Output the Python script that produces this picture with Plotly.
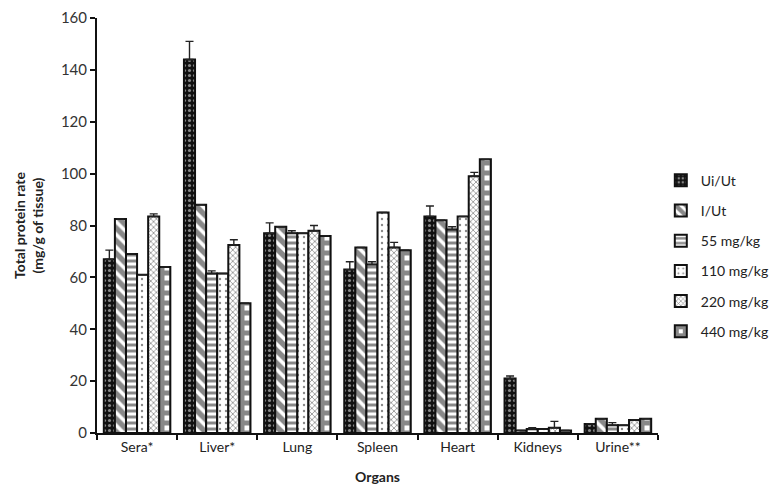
import plotly.graph_objects as go

organs = ["Sera*", "Liver*", "Lung", "Spleen", "Heart", "Kidneys", "Urine**"]
groups = ["Ui/Ut", "I/Ut", "55 mg/kg", "110 mg/kg", "220 mg/kg", "440 mg/kg"]

ui_ut = [67, 144, 77, 63, 83.5, 21, 3.5]
i_ut = [82.5, 88, 79.5, 71.5, 82, 1, 5.5]
mg55 = [69, 61.5, 77, 65, 78.5, 1.5, 3]
mg110 = [61, 61.5, 77, 85, 83.5, 1.5, 3]
mg220 = [83.5, 72.5, 78, 71.5, 99, 2, 5]
mg440 = [64, 50, 76, 70.5, 105.5, 1, 5.5]

err_ui_ut = [3.5, 7, 4, 3, 4, 1, 0]
err_i_ut = [0, 0, 0, 0, 0, 0, 0]
err_mg55 = [0, 1, 1, 1, 1, 0.5, 1]
err_mg110 = [0, 0, 0, 0, 0, 0, 0]
err_mg220 = [1, 2, 2, 2, 1.5, 2.5, 0]
err_mg440 = [0, 0, 0, 0, 0, 0, 0]

series = [ui_ut, i_ut, mg55, mg110, mg220, mg440]
errors = [err_ui_ut, err_i_ut, err_mg55, err_mg110, err_mg220, err_mg440]

patterns = [
    dict(shape=".", bgcolor="#111111", fgcolor="white", size=5, solidity=0.3),
    dict(shape="\\", bgcolor="white", fgcolor="#111111", size=9, solidity=0.6),
    dict(shape="-", bgcolor="white", fgcolor="#111111", size=6, solidity=0.5),
    dict(shape=".", bgcolor="white", fgcolor="#111111", size=6, solidity=0.12),
    dict(shape="x", bgcolor="white", fgcolor="#111111", size=4, solidity=0.35),
    dict(shape="+", bgcolor="white", fgcolor="#111111", size=10, solidity=0.75),
]

fig = go.Figure()
for name, vals, errs, pat in zip(groups, series, errors, patterns):
    fig.add_trace(go.Bar(
        name=name,
        x=organs,
        y=vals,
        legendgroup=name,
        marker=dict(color="white", pattern=pat,
                    line=dict(color="#111111", width=2)),
        error_y=dict(type="data", symmetric=False, array=errs,
                     arrayminus=[0] * len(errs), color="#222222",
                     thickness=1.4, width=4),
    ))

fig.update_layout(
    width=774, height=486,
    barmode="group", bargap=0.17, bargroupgap=0,
    plot_bgcolor="white", paper_bgcolor="white",
    margin=dict(l=97, r=116, t=18, b=53, autoexpand=False),
    font=dict(family="Lato", size=14, color="#333333"),
    legend=dict(x=1.005, y=0.426, xanchor="left", yanchor="middle",
                traceorder="grouped", tracegroupgap=9, itemwidth=30,
                font=dict(size=14, color="#222222")),
    showlegend=True,
)
fig.update_xaxes(
    showline=True, linecolor="#111111", linewidth=2,
    ticks="outside", tickson="boundaries", ticklen=5, tickcolor="#111111",
    tickwidth=1.5,
    title=dict(text="<b>Organs</b>", standoff=18,
               font=dict(size=14, color="#222222")),
    tickfont=dict(size=14, color="#222222"),
)
fig.update_yaxes(
    range=[0, 160], dtick=20, showgrid=False, zeroline=False,
    showline=True, linecolor="#111111", linewidth=2,
    ticks="outside", ticklen=5, tickcolor="#111111", tickwidth=1.5,
    tickfont=dict(size=15, color="#333333"),
    title=dict(text="<b>Total protein rate<br>(mg/g of tissue)</b>",
               standoff=14, font=dict(size=14, color="#222222")),
)

fig.write_html("out.html")
